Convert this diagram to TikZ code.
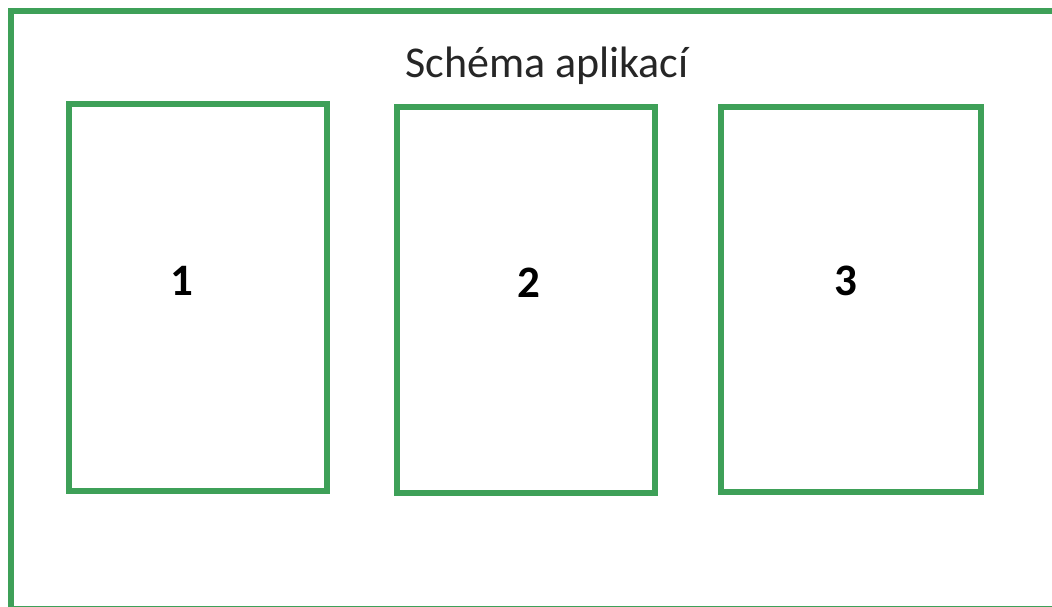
\documentclass[tikz,border=0pt]{standalone}
\usepackage{fontspec}
\setmainfont{Carlito}
\definecolor{frameGreen}{RGB}{62,160,88}
\begin{document}
\begin{tikzpicture}[x=1pt,y=-1pt,
  frame/.style={draw=frameGreen,line width=5.5pt},
  appbox/.style={draw=frameGreen,line width=5.5pt},
  title/.style={font=\fontsize{44}{50}\selectfont,text=black!85,anchor=base,inner sep=0pt},
  num/.style={font=\bfseries\fontsize{45}{50}\selectfont,text=black,anchor=base,inner sep=0pt}]
\useasboundingbox (0,0) rectangle (1052,606);
\clip (0,0) rectangle (1052,606);
\fill[white] (0,0) rectangle (1052,606);
\draw[frame] (11,11) rectangle (1070,608.5);
\draw[appbox] (69,104) rectangle (327,491);
\draw[appbox] (397,107) rectangle (655,493);
\draw[appbox] (721,107) rectangle (981,492);
\node[title] (t) at (547,77) {Schéma aplikací};
\node[num] (n1) at (182,295) {1};
\node[num] (n2) at (529,297) {2};
\node[num] (n3) at (846,295) {3};
\end{tikzpicture}
\end{document}
